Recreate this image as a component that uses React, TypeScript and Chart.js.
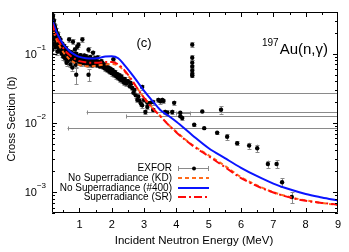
import React, { useEffect, useRef } from "react";
import { Chart, registerables } from "chart.js";
Chart.register(...registerables);

const FONT = '"Liberation Sans", Arial, sans-serif';

// Model curves
const curveX = [0.15, 0.2, 0.3, 0.4, 0.5, 0.6, 0.7, 0.8, 0.9, 1.0, 1.2, 1.4, 1.6, 1.8, 2.0, 2.2, 2.4, 2.6, 2.8, 3.0, 3.25, 3.5, 3.75, 4.0, 4.5, 5.0, 5.5, 6.0, 6.5, 7.0, 7.5, 8.0, 8.5, 9.0];
const n400Y = [0.32, 0.27, 0.2, 0.162, 0.137, 0.12, 0.108, 0.1, 0.094, 0.09, 0.086, 0.085, 0.087, 0.091, 0.092, 0.086, 0.068, 0.052, 0.039, 0.029, 0.021, 0.0154, 0.0127, 0.0104, 0.0066, 0.0043, 0.0031, 0.00225, 0.0017, 0.00133, 0.0011, 0.00094, 0.00084, 0.00076];
const srY = [0.28, 0.23, 0.17, 0.14, 0.12, 0.105, 0.095, 0.087, 0.082, 0.078, 0.075, 0.074, 0.074, 0.076, 0.076, 0.07, 0.057, 0.043, 0.031, 0.023, 0.0165, 0.0125, 0.0094, 0.0073, 0.0047, 0.0033, 0.0023, 0.0016, 0.00122, 0.00099, 0.00084, 0.00075, 0.0007, 0.00066];
const kdY = [0.26, 0.21, 0.155, 0.125, 0.105, 0.092, 0.082, 0.076, 0.072, 0.069, 0.066, 0.066, 0.068, 0.07, 0.071, 0.067, 0.055, 0.042, 0.031, 0.023, 0.0166, 0.0126, 0.0095, 0.0074, 0.0048, 0.0034, 0.0024, 0.00165, 0.00125, 0.001, 0.00085, 0.00076, 0.0007, 0.00065];

// EXFOR data (x in MeV, y in b, relative y error)
const exforX = [0.16, 0.16, 0.17, 0.17, 0.16, 0.18, 0.18, 0.18, 0.19, 0.19, 0.2, 0.2, 0.2, 0.21, 0.21, 0.22, 0.23, 0.23, 0.24, 0.24, 0.25, 0.25, 0.26, 0.26, 0.27, 0.27, 0.28, 0.29, 0.29, 0.3, 0.3, 0.31, 0.32, 0.33, 0.33, 0.34, 0.35, 0.36, 0.37, 0.38, 0.39, 0.4, 0.41, 0.42, 0.43, 0.44, 0.45, 0.46, 0.47, 0.48, 0.5, 0.5, 0.52, 0.53, 0.54, 0.56, 0.57, 0.58, 0.6, 0.6, 0.62, 0.63, 0.64, 0.66, 0.67, 0.68, 0.7, 0.71, 0.72, 0.74, 0.75, 0.76, 0.78, 0.79, 0.8, 0.81, 0.82, 0.84, 0.85, 0.86, 0.88, 0.89, 0.9, 0.9, 0.92, 0.93, 0.95, 0.96, 0.97, 0.99, 1.0, 1.02, 1.03, 1.05, 1.06, 1.09, 1.1, 1.12, 1.13, 1.15, 1.16, 1.18, 1.2, 1.21, 1.23, 1.25, 1.27, 1.28, 1.28, 1.3, 1.31, 1.33, 1.35, 1.37, 1.39, 1.4, 1.42, 1.43, 1.46, 1.48, 1.5, 1.52, 1.53, 1.56, 1.58, 1.6, 1.62, 1.63, 1.66, 1.68, 1.7, 1.72, 1.73, 1.76, 1.78, 1.8, 1.82, 1.83, 1.86, 1.88, 1.9, 1.92, 1.93, 1.96, 1.98, 2.0, 2.02, 2.05, 2.06, 2.08, 2.1, 2.12, 2.14, 2.16, 2.18, 2.2, 2.23, 2.26, 2.28, 2.3, 2.33, 2.36, 2.38, 2.4, 2.45, 2.48, 2.5, 2.55, 2.57, 2.6, 2.63, 2.7, 2.74, 2.79, 2.82, 2.86, 2.9, 2.94, 2.94, 3.0, 3.04, 3.1, 3.1, 3.19, 3.28, 3.28, 3.44, 3.5, 3.56, 3.6, 3.65, 3.72, 3.87, 3.93, 4.18, 4.49, 4.49, 4.49, 4.49, 4.49, 4.49, 4.49, 4.55, 5.26, 5.38, 5.57, 5.88, 6.25, 6.5, 6.83, 7.1, 7.27, 7.57];
const exforY = [0.37, 0.33, 0.29, 0.24, 0.114, 0.35, 0.31, 0.2, 0.27, 0.16, 0.23, 0.18, 0.135, 0.26, 0.3, 0.21, 0.17, 0.25, 0.24, 0.14, 0.19, 0.125, 0.16, 0.22, 0.22, 0.18, 0.14, 0.2, 0.17, 0.17, 0.145, 0.13, 0.107, 0.19, 0.16, 0.15, 0.13, 0.12, 0.17, 0.14, 0.125, 0.11, 0.16, 0.135, 0.13, 0.115, 0.1, 0.14, 0.12, 0.12, 0.09, 0.11, 0.13, 0.1, 0.11, 0.085, 0.12, 0.12, 0.1, 0.074, 0.078, 0.09, 0.11, 0.09, 0.082, 0.16, 0.095, 0.085, 0.07, 0.105, 0.09, 0.085, 0.063, 0.08, 0.149, 0.1, 0.092, 0.085, 0.078, 0.115, 0.069, 0.088, 0.1, 0.0497, 0.08, 0.126, 0.084, 0.092, 0.135, 0.078, 0.075, 0.088, 0.095, 0.08, 0.072, 0.16, 0.088, 0.078, 0.082, 0.094, 0.072, 0.084, 0.092, 0.076, 0.078, 0.07, 0.085, 0.114, 0.0497, 0.07, 0.08, 0.09, 0.074, 0.077, 0.068, 0.083, 0.103, 0.075, 0.074, 0.086, 0.081, 0.072, 0.068, 0.088, 0.076, 0.075, 0.066, 0.072, 0.066, 0.078, 0.074, 0.068, 0.064, 0.07, 0.062, 0.061, 0.068, 0.066, 0.058, 0.063, 0.063, 0.057, 0.055, 0.06, 0.054, 0.052, 0.058, 0.083, 0.05, 0.055, 0.054, 0.049, 0.047, 0.051, 0.046, 0.045, 0.049, 0.042, 0.047, 0.046, 0.041, 0.042, 0.038, 0.043, 0.037, 0.04, 0.04, 0.034, 0.038, 0.037, 0.032, 0.03, 0.025, 0.0215, 0.024, 0.021, 0.019, 0.033, 0.018, 0.0215, 0.0144, 0.017, 0.0195, 0.0195, 0.02, 0.0154, 0.0215, 0.0205, 0.0215, 0.0208, 0.0144, 0.014, 0.0144, 0.0195, 0.0118, 0.135, 0.0875, 0.074, 0.065, 0.057, 0.051, 0.048, 0.0094, 0.0072, 0.0155, 0.0063, 0.0051, 0.0047, 0.0043, 0.00255, 0.00255, 0.00139, 0.00085];
const exforErr = [0.08, 0.06, 0.06, 0.07, 0.1, 0.08, 0.06, 0.08, 0.06, 0.1, 0.07, 0.08, 0.1, 0.06, 0.07, 0.07, 0.08, 0.06, 0.07, 0.1, 0.08, 0.1, 0.08, 0.06, 0.07, 0.08, 0.08, 0.07, 0.07, 0.07, 0.07, 0.08, 0.1, 0.07, 0.07, 0.07, 0.08, 0.08, 0.07, 0.07, 0.08, 0.08, 0.07, 0.07, 0.07, 0.08, 0.09, 0.07, 0.07, 0.07, 0.09, 0.08, 0.07, 0.08, 0.08, 0.08, 0.07, 0.08, 0.08, 0.1, 0.08, 0.08, 0.07, 0.08, 0.08, 0.08, 0.07, 0.07, 0.09, 0.07, 0.07, 0.07, 0.1, 0.07, 0.08, 0.07, 0.07, 0.07, 0.07, 0.08, 0.08, 0.07, 0.07, 0.27, 0.07, 0.07, 0.07, 0.07, 0.08, 0.07, 0.07, 0.07, 0.07, 0.07, 0.08, 0.08, 0.07, 0.07, 0.07, 0.07, 0.07, 0.07, 0.07, 0.07, 0.07, 0.08, 0.07, 0.08, 0.2, 0.07, 0.07, 0.07, 0.07, 0.07, 0.07, 0.07, 0.07, 0.07, 0.07, 0.07, 0.07, 0.07, 0.07, 0.07, 0.07, 0.07, 0.07, 0.07, 0.07, 0.07, 0.07, 0.07, 0.07, 0.07, 0.07, 0.07, 0.07, 0.07, 0.07, 0.07, 0.07, 0.07, 0.07, 0.07, 0.07, 0.07, 0.07, 0.06, 0.07, 0.07, 0.07, 0.07, 0.07, 0.07, 0.07, 0.07, 0.07, 0.07, 0.07, 0.07, 0.07, 0.07, 0.07, 0.07, 0.07, 0.07, 0.07, 0.07, 0.07, 0.07, 0.07, 0.07, 0.08, 0.08, 0.08, 0.08, 0.08, 0.08, 0.1, 0.08, 0.08, 0.08, 0.08, 0.08, 0.08, 0.08, 0.08, 0.08, 0.08, 0.08, 0.08, 0.08, 0.08, 0.08, 0.08, 0.08, 0.08, 0.08, 0.04, 0.04, 0.04, 0.04, 0.04, 0.04, 0.12, 0.1, 0.06, 0.1, 0.13, 0.12, 0.13, 0.15, 0.18, 0.25, 0.7];

// EXFOR points with wide energy bins
const wideX = [2.67, 4.8, 4.12, 4.86, 4.12];
const wideY = [0.0272, 0.0146, 0.0125, 0.0084, 0.014];
const wideLo = [0.05, 1.22, 2.45, 0.63, 4.0];
const wideHi = [9.6, 9.6, 9.6, 9.6, 4.43];

const xTicks = [1, 2, 3, 4, 5, 6, 7, 8, 9];
const yDecades = [-3, -2, -1];

const legendLabels = ["EXFOR", "No Superradiance (KD)", "No Superradiance (#400)", "Superradiance (SR)"];

const ORANGE = "#ff6a1a";
const BLUE = "#0a14ff";
const RED = "#ff0a0a";
const GREY = "#8a8a8a";

const errorBarsPlugin = {
  id: "errbars",
  beforeDatasetsDraw(chart: any) {
    const { ctx, chartArea: a } = chart;
    const xs = chart.scales.x;
    const ys = chart.scales.y;
    ctx.save();
    ctx.beginPath();
    ctx.rect(a.left, a.top, a.right - a.left, a.bottom - a.top);
    ctx.clip();
    ctx.strokeStyle = GREY;
    ctx.lineWidth = 1;
    ctx.beginPath();
    for (let i = 0; i < exforX.length; i++) {
      const px = Math.round(xs.getPixelForValue(exforX[i])) + 0.5;
      const y = exforY[i];
      const e = exforErr[i];
      const p1 = ys.getPixelForValue(y * (1 + e));
      const p2 = ys.getPixelForValue(Math.max(y * (1 - e), 1e-5));
      ctx.moveTo(px, p1);
      ctx.lineTo(px, p2);
      ctx.moveTo(px - 2, Math.round(p1) + 0.5);
      ctx.lineTo(px + 2, Math.round(p1) + 0.5);
      ctx.moveTo(px - 2, Math.round(p2) + 0.5);
      ctx.lineTo(px + 2, Math.round(p2) + 0.5);
    }
    for (let i = 0; i < wideX.length; i++) {
      const py = Math.round(ys.getPixelForValue(wideY[i])) + 0.5;
      const l = xs.getPixelForValue(wideLo[i]);
      const r = xs.getPixelForValue(wideHi[i]);
      ctx.moveTo(l, py);
      ctx.lineTo(r, py);
      ctx.moveTo(Math.round(l) + 0.5, py - 2);
      ctx.lineTo(Math.round(l) + 0.5, py + 2);
      ctx.moveTo(Math.round(r) + 0.5, py - 2);
      ctx.lineTo(Math.round(r) + 0.5, py + 2);
    }
    ctx.stroke();
    ctx.restore();
  },
};

const axesPlugin = {
  id: "gnuaxes",
  afterDraw(chart: any) {
    const { ctx, chartArea: a } = chart;
    const xs = chart.scales.x;
    const ys = chart.scales.y;
    ctx.save();
    ctx.strokeStyle = "#000";
    ctx.lineWidth = 1;
    ctx.beginPath();
    ctx.rect(a.left + 0.5, a.top + 0.5, a.right - a.left - 1, a.bottom - a.top - 1);
    ctx.stroke();
    ctx.beginPath();
    // x ticks
    for (let v = 0.5; v <= 9; v += 0.5) {
      const px = Math.round(xs.getPixelForValue(v)) + 0.5;
      if (px <= a.left + 1 || px >= a.right - 1) continue;
      const major = Math.abs(v - Math.round(v)) < 1e-6;
      const len = major ? 5 : 3;
      ctx.moveTo(px, a.bottom);
      ctx.lineTo(px, a.bottom - len);
      ctx.moveTo(px, a.top);
      ctx.lineTo(px, a.top + len);
    }
    // y ticks
    for (let d = -4; d <= -1; d++) {
      for (let m = 1; m <= 9; m++) {
        const v = m * Math.pow(10, d);
        if (v < ys.min || v > ys.max) continue;
        const py = Math.round(ys.getPixelForValue(v)) + 0.5;
        const len = m === 1 ? 5 : 3;
        ctx.moveTo(a.left, py);
        ctx.lineTo(a.left + len, py);
        ctx.moveTo(a.right, py);
        ctx.lineTo(a.right - len, py);
      }
    }
    ctx.stroke();

    ctx.fillStyle = "#000";
    ctx.font = `11px ${FONT}`;
    ctx.textAlign = "center";
    ctx.textBaseline = "middle";
    for (const t of xTicks) {
      ctx.fillText(String(t), xs.getPixelForValue(t), a.bottom + 12);
    }
    for (const d of yDecades) {
      const py = ys.getPixelForValue(Math.pow(10, d));
      ctx.font = `8px ${FONT}`;
      const sup = String(d).replace("-", "\u2212");
      const sw = ctx.measureText(sup).width;
      const sx = a.left - 6 - sw;
      ctx.textAlign = "left";
      ctx.fillText(sup, sx, py - 6);
      ctx.font = `11px ${FONT}`;
      ctx.textAlign = "right";
      ctx.fillText("10", sx, py + 1);
    }
    // axis titles
    ctx.textAlign = "center";
    ctx.font = `11.5px ${FONT}`;
    ctx.fillText("Incident Neutron Energy (MeV)", 194, a.bottom + 28);
    ctx.save();
    ctx.translate(12, 119);
    ctx.rotate(-Math.PI / 2);
    ctx.font = `11px ${FONT}`;
    ctx.fillText("Cross Section (b)", 0, 0);
    ctx.restore();

    // annotations
    ctx.font = `13px ${FONT}`;
    ctx.fillText("(c)", 144, 43);
    ctx.font = `15px ${FONT}`;
    ctx.textAlign = "right";
    ctx.fillText("Au(n,\u03b3)", 328, 50);
    const aw = ctx.measureText("Au(n,\u03b3)").width;
    ctx.font = `10px ${FONT}`;
    ctx.fillText("197", 328 - aw - 1, 43);

    // legend
    const rows = [168, 178, 188, 197];
    ctx.font = `10px ${FONT}`;
    ctx.textAlign = "right";
    rows.forEach((ry, i) => ctx.fillText(legendLabels[i], 172, ry));
    const x0 = 178, x1 = 209;
    // EXFOR sample
    ctx.strokeStyle = GREY;
    ctx.lineWidth = 1;
    ctx.beginPath();
    ctx.moveTo(x0, rows[0] + 0.5);
    ctx.lineTo(x1, rows[0] + 0.5);
    ctx.moveTo(x0 + 0.5, rows[0] - 2);
    ctx.lineTo(x0 + 0.5, rows[0] + 3);
    ctx.moveTo(x1 - 0.5, rows[0] - 2);
    ctx.lineTo(x1 - 0.5, rows[0] + 3);
    ctx.stroke();
    ctx.fillStyle = "#000";
    ctx.beginPath();
    ctx.arc(194, rows[0] + 0.5, 2, 0, Math.PI * 2);
    ctx.fill();
    const styles = [
      { c: ORANGE, d: [4, 3] },
      { c: BLUE, d: [] },
      { c: RED, d: [8, 3, 2, 3] },
    ];
    styles.forEach((s, i) => {
      ctx.strokeStyle = s.c;
      ctx.lineWidth = 2;
      ctx.setLineDash(s.d);
      ctx.beginPath();
      ctx.moveTo(x0, rows[i + 1]);
      ctx.lineTo(x1, rows[i + 1]);
      ctx.stroke();
    });
    ctx.setLineDash([]);
    ctx.restore();
  },
};

export default function App() {
  const ref = useRef<HTMLCanvasElement | null>(null);
  useEffect(() => {
    if (!ref.current) return;
    const pts = exforX.map((x, i) => ({ x, y: exforY[i] })).concat(wideX.map((x, i) => ({ x, y: wideY[i] })));
    const line = (ys: number[]) => curveX.map((x, i) => ({ x, y: ys[i] }));
    const chart = new Chart(ref.current, {
      type: "scatter",
      data: {
        datasets: [
          { label: "EXFOR", data: pts, backgroundColor: "#000", borderColor: "#000", pointRadius: 2.2, pointBorderWidth: 0, showLine: false, order: 4 } as any,
          { label: "No Superradiance (KD)", data: line(kdY), borderColor: ORANGE, borderDash: [4, 3], borderWidth: 2, showLine: true, pointRadius: 0, cubicInterpolationMode: "monotone", order: 3 } as any,
          { label: "No Superradiance (#400)", data: line(n400Y), borderColor: BLUE, borderWidth: 2, showLine: true, pointRadius: 0, cubicInterpolationMode: "monotone", order: 2 } as any,
          { label: "Superradiance (SR)", data: line(srY), borderColor: RED, borderDash: [8, 3, 2, 3], borderWidth: 2, showLine: true, pointRadius: 0, cubicInterpolationMode: "monotone", order: 1 } as any,
        ],
      },
      options: {
        responsive: false,
        animation: false,
        devicePixelRatio: 1,
        layout: { padding: { left: 52, right: 11, top: 12, bottom: 39 } },
        scales: {
          x: { type: "linear", min: 0.15, max: 9, display: false },
          y: { type: "logarithmic", min: 5e-4, max: 0.4, display: false },
        },
        plugins: { legend: { display: false }, tooltip: { enabled: false } },
      },
      plugins: [errorBarsPlugin, axesPlugin],
    });
    return () => chart.destroy();
  }, []);
  return (
    <div style={{ position: "fixed", left: 0, top: 0, width: 349, height: 252, background: "#fff" }}>
      <canvas ref={ref} width={349} height={252} style={{ width: 349, height: 252 }} />
    </div>
  );
}
